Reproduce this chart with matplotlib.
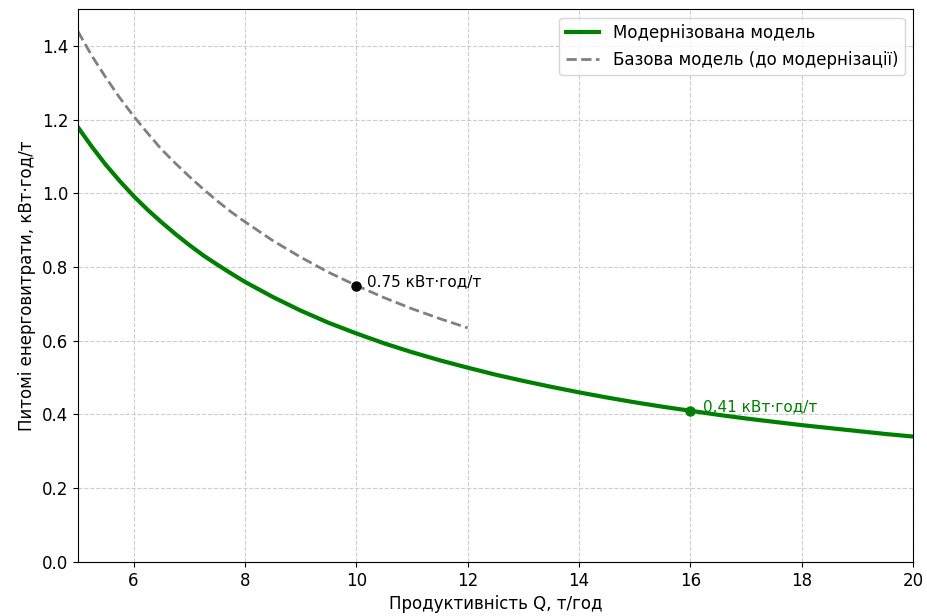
import matplotlib
matplotlib.use("Agg")
import matplotlib.pyplot as plt

# Values
q_new = [5.0, 5.25, 5.5, 5.75, 6.0, 6.25, 6.5, 6.75, 7.0, 7.25, 7.5, 7.75, 8.0,
         8.5, 9.0, 9.5, 10.0, 10.5, 11.0, 11.5, 12.0, 12.5, 13.0, 13.5, 14.0,
         14.5, 15.0, 15.5, 16.0, 16.5, 17.0, 17.5, 18.0, 18.5, 19.0, 19.5, 20.0]
e_new = [1.18, 1.127, 1.078, 1.034, 0.993, 0.956, 0.922, 0.89, 0.86, 0.832,
         0.807, 0.783, 0.76, 0.719, 0.682, 0.649, 0.62, 0.593, 0.569, 0.547,
         0.527, 0.508, 0.491, 0.475, 0.46, 0.446, 0.433, 0.421, 0.41, 0.399,
         0.389, 0.38, 0.371, 0.363, 0.355, 0.347, 0.34]

q_base = [5.0, 5.25, 5.5, 5.75, 6.0, 6.25, 6.5, 6.75, 7.0, 7.25, 7.5, 7.75, 8.0,
          8.5, 9.0, 9.5, 10.0, 10.5, 11.0, 11.5, 12.0]
e_base = [1.44, 1.374, 1.315, 1.26, 1.21, 1.164, 1.12, 1.082, 1.046, 1.012,
          0.98, 0.95, 0.923, 0.872, 0.827, 0.786, 0.75, 0.717, 0.687, 0.66, 0.635]

base_pt = (10, 0.75)
new_pt = (16, 0.41)
base_label = "0.75 кВт·год/т"
new_label = "0.41 кВт·год/т"

fig, ax = plt.subplots(figsize=(9.27, 6.16), dpi=100)

ax.plot(q_new, e_new, color="green", lw=3, label="Модернізована модель")
ax.plot(q_base, e_base, color="gray", lw=2, ls="--", label="Базова модель (до модернізації)")

ax.plot(*base_pt, "o", color="black", ms=6.5)
ax.annotate(base_label, base_pt, xytext=(8, 3), textcoords="offset points",
            va="center", fontsize=11, color="black")
ax.plot(*new_pt, "o", color="green", ms=6.5)
ax.annotate(new_label, new_pt, xytext=(9, 3), textcoords="offset points",
            va="center", fontsize=11, color="green")

ax.set_xlim(5, 20)
ax.set_ylim(0, 1.5)
ax.set_xlabel("Продуктивність Q, т/год", fontsize=12)
ax.set_ylabel("Питомі енерговитрати, кВт·год/т", fontsize=12)
ax.tick_params(labelsize=12)
ax.grid(True, ls="--", color="#c8c8c8", alpha=0.9)
ax.legend(loc="upper right", fontsize=12)

fig.subplots_adjust(left=0.084, right=0.985, top=0.985, bottom=0.088)
fig.savefig("out.png", dpi=100)
